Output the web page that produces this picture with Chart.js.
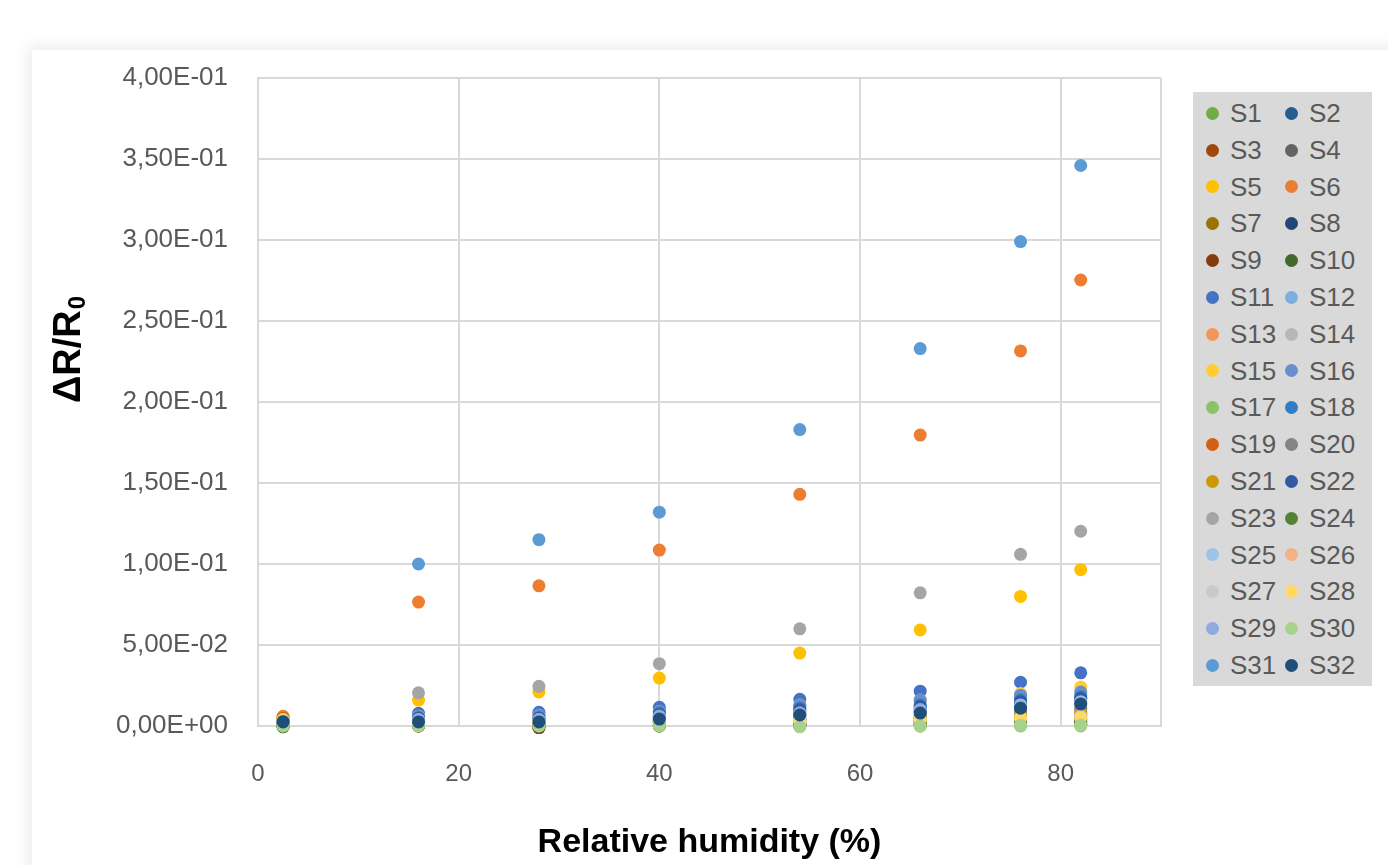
<!DOCTYPE html>
<html>
<head>
<meta charset="utf-8">
<script src="https://cdn.jsdelivr.net/npm/chart.js@4.4.1/dist/chart.umd.min.js"></script>
<style>
  html, body { margin: 0; padding: 0; background: #ffffff; }
  body { width: 1388px; height: 865px; position: relative; overflow: hidden; }
  #frame { position: absolute; left: 32px; top: 50px; width: 1420px; height: 900px; background: #fff;
           box-shadow: 0 0 14px 4px rgba(0,0,0,0.08); }
  #wrap { position: absolute; left: 0; top: 0; width: 1388px; height: 865px; }
  #legend { position: absolute; left: 1193px; top: 92px; width: 179px; height: 594px; background: #D9D9D9;
            box-sizing: border-box; padding-top: 3px; display: grid; grid-template-columns: 89px 90px;
            grid-auto-rows: 36.8px; font-family: 'Liberation Sans', Arial, sans-serif;
            font-size: 26px; color: #595959; }
  .item { position: relative; }
  .dot { position: absolute; left: 13px; width: 13px; height: 13px; border-radius: 50%; top: 50%; margin-top: -6.5px; }
  .lbl { position: absolute; left: 37px; line-height: 36.8px; top: 0; }
  .item.c2 .dot { left: 3px; }
  .item.c2 .lbl { left: 27px; }
</style>
</head>
<body>
<div id="frame"></div>
<div id="wrap"><canvas id="c" width="1388" height="865"></canvas></div>
<div id="legend"></div>
<script>
// ---- DATA ----
const humidity = [2.5, 16, 28, 40, 54, 66, 76, 82];
const xTickLabels = ['0', '20', '40', '60', '80', ''];
const yTickLabels = ['0,00E+00', '5,00E-02', '1,00E-01', '1,50E-01', '2,00E-01', '2,50E-01', '3,00E-01', '3,50E-01', '4,00E-01'];
const xTitle = 'Relative humidity (%)';
const yTitleMain = 'ΔR/R';
const yTitleSub = '0';

const s1  = [0.0000, 0.0000, 0.0000, 0.0000, 0.0000, 0.0000, 0.0010, 0.0010];
const s2  = [0.0020, 0.0040, 0.0040, 0.0060, 0.0090, 0.0110, 0.0140, 0.0170];
const s3  = [0.0000, 0.0000, -0.0010, 0.0010, 0.0010, 0.0020, 0.0020, 0.0030];
const s4  = [0.0010, 0.0020, 0.0020, 0.0030, 0.0040, 0.0050, 0.0060, 0.0070];
const s5  = [0.0055, 0.0160, 0.0210, 0.0296, 0.0450, 0.0593, 0.0800, 0.0965];
const s6  = [0.0060, 0.0765, 0.0865, 0.1086, 0.1430, 0.1796, 0.2315, 0.2753];
const s7  = [0.0010, 0.0010, 0.0010, 0.0020, 0.0030, 0.0030, 0.0040, 0.0050];
const s8  = [0.0020, 0.0030, 0.0030, 0.0050, 0.0070, 0.0090, 0.0120, 0.0150];
const s9  = [0.0000, 0.0000, -0.0010, 0.0000, 0.0010, 0.0010, 0.0020, 0.0020];
const s10 = [-0.0005, 0.0000, 0.0000, 0.0000, 0.0000, 0.0010, 0.0010, 0.0010];
const s11 = [0.0030, 0.0078, 0.0085, 0.0115, 0.0165, 0.0215, 0.0270, 0.0328];
const s12 = [0.0030, 0.0060, 0.0060, 0.0090, 0.0120, 0.0150, 0.0170, 0.0190];
const s13 = [0.0040, 0.0030, 0.0030, 0.0040, 0.0050, 0.0060, 0.0080, 0.0100];
const s14 = [0.0020, 0.0030, 0.0030, 0.0040, 0.0050, 0.0060, 0.0080, 0.0090];
const s15 = [0.0050, 0.0060, 0.0060, 0.0085, 0.0130, 0.0160, 0.0200, 0.0240];
const s16 = [0.0030, 0.0060, 0.0070, 0.0090, 0.0130, 0.0160, 0.0190, 0.0210];
const s17 = [0.0000, 0.0010, 0.0000, 0.0010, 0.0000, 0.0000, 0.0000, 0.0000];
const s18 = [0.0030, 0.0050, 0.0050, 0.0080, 0.0110, 0.0130, 0.0160, 0.0180];
const s19 = [0.0050, 0.0020, 0.0020, 0.0030, 0.0040, 0.0050, 0.0060, 0.0070];
const s20 = [0.0010, 0.0030, 0.0030, 0.0040, 0.0060, 0.0070, 0.0090, 0.0110];
const s21 = [0.0020, 0.0020, 0.0020, 0.0030, 0.0040, 0.0050, 0.0070, 0.0080];
const s22 = [0.0030, 0.0050, 0.0050, 0.0070, 0.0100, 0.0120, 0.0150, 0.0170];
const s23 = [0.0040, 0.0205, 0.0245, 0.0385, 0.0600, 0.0822, 0.1060, 0.1202];
const s24 = [0.0000, 0.0010, 0.0010, 0.0020, 0.0020, 0.0030, 0.0030, 0.0040];
const s25 = [0.0020, 0.0040, 0.0040, 0.0060, 0.0080, 0.0100, 0.0130, 0.0150];
const s26 = [0.0030, 0.0020, 0.0020, 0.0030, 0.0040, 0.0040, 0.0050, 0.0060];
const s27 = [0.0010, 0.0020, 0.0020, 0.0030, 0.0030, 0.0040, 0.0050, 0.0060];
const s28 = [0.0040, 0.0030, 0.0030, 0.0040, 0.0030, 0.0040, 0.0050, 0.0050];
const s29 = [0.0020, 0.0040, 0.0040, 0.0060, 0.0080, 0.0100, 0.0120, 0.0140];
const s30 = [0.0000, 0.0000, 0.0000, 0.0000, -0.0005, 0.0000, 0.0005, 0.0005];
const s31 = [0.0030, 0.1000, 0.1150, 0.1320, 0.1830, 0.2330, 0.2990, 0.3460];
const s32 = [0.0025, 0.0025, 0.0025, 0.0043, 0.0068, 0.0080, 0.0110, 0.0136];

const seriesNames = ['S1','S2','S3','S4','S5','S6','S7','S8','S9','S10','S11','S12','S13','S14','S15','S16',
                     'S17','S18','S19','S20','S21','S22','S23','S24','S25','S26','S27','S28','S29','S30','S31','S32'];
const seriesValues = [s1,s2,s3,s4,s5,s6,s7,s8,s9,s10,s11,s12,s13,s14,s15,s16,
                      s17,s18,s19,s20,s21,s22,s23,s24,s25,s26,s27,s28,s29,s30,s31,s32];
// ---- STYLE ----
const seriesColors = ['#70AD47','#255E91','#9E480E','#636363','#FFC000','#ED7D31','#997300','#264478',
                      '#843C0C','#43682B','#4472C4','#7CAFDD','#F1975A','#B7B7B7','#FFCD33','#698ED0',
                      '#8CC168','#327DC2','#D26012','#848484','#CC9A00','#335AA1','#A5A5A5','#548235',
                      '#9DC3E6','#F4B183','#C9C9C9','#FFD966','#8FAADC','#A9D18E','#5B9BD5','#1F4E79'];

const sans = "'Liberation Sans', Arial, sans-serif";

const datasets = seriesNames.map((name, i) => ({
  label: name,
  data: humidity.map((h, k) => ({ x: h, y: seriesValues[i][k] })),
  backgroundColor: seriesColors[i],
  borderColor: seriesColors[i],
  pointRadius: 6.5,
  pointBorderWidth: 0,
  pointHoverRadius: 6.5,
  showLine: false,
  clip: false,
  order: seriesNames.length - 1 - i
}));

const yTitlePlugin = {
  id: 'yTitle',
  afterDraw(chart) {
    const ctx = chart.ctx;
    ctx.save();
    ctx.translate(70, 350);
    ctx.rotate(-Math.PI / 2);
    ctx.fillStyle = '#000000';
    ctx.textBaseline = 'middle';
    ctx.textAlign = 'left';
    const mainFont = 'bold 38px ' + sans;
    const subFont = 'bold 24px ' + sans;
    ctx.font = mainFont;
    const w1 = ctx.measureText(yTitleMain).width;
    ctx.font = subFont;
    const w2 = ctx.measureText(yTitleSub).width;
    const start = -(w1 + w2) / 2;
    ctx.font = mainFont;
    ctx.fillText(yTitleMain, start, 0);
    ctx.font = subFont;
    ctx.fillText(yTitleSub, start + w1 + 1, 8);
    ctx.restore();
  }
};

new Chart(document.getElementById('c'), {
  type: 'scatter',
  data: { datasets },
  options: {
    responsive: false,
    animation: false,
    events: [],
    layout: { padding: { left: 40, top: 78, right: 227, bottom: 0 } },
    plugins: {
      legend: { display: false },
      tooltip: { enabled: false }
    },
    scales: {
      x: {
        type: 'linear',
        min: 0, max: 90,
        ticks: {
          stepSize: 20,
          autoSkip: false,
          maxRotation: 0,
          padding: 34,
          color: '#595959',
          font: { family: sans, size: 24 },
          callback: (v, i) => xTickLabels[i]
        },
        grid: { color: '#D9D9D9', lineWidth: 2, drawTicks: false },
        border: { color: '#D9D9D9', width: 2 },
        title: {
          display: true,
          text: xTitle,
          color: '#000000',
          font: { family: sans, size: 34, weight: 'bold', lineHeight: 1 },
          padding: { top: 0, bottom: 5 }
        },
        afterFit: (s) => { s.height = 139; }
      },
      y: {
        type: 'linear',
        min: 0, max: 0.4,
        ticks: {
          stepSize: 0.05,
          autoSkip: false,
          padding: 30,
          color: '#595959',
          font: { family: sans, size: 26 },
          callback: (v, i) => yTickLabels[i]
        },
        grid: { color: '#D9D9D9', lineWidth: 2, drawTicks: false },
        border: { color: '#D9D9D9', width: 2 },
        afterFit: (s) => { s.width = 218; }
      }
    }
  },
  plugins: [yTitlePlugin]
});

// HTML legend, row-wise two columns
const legendEl = document.getElementById('legend');
seriesNames.forEach((name, i) => {
  const it = document.createElement('div');
  it.className = 'item' + (i % 2 === 1 ? ' c2' : '');
  const d = document.createElement('span');
  d.className = 'dot';
  d.style.background = seriesColors[i];
  const l = document.createElement('span');
  l.className = 'lbl';
  l.textContent = name;
  it.appendChild(d); it.appendChild(l);
  legendEl.appendChild(it);
});
</script>
</body>
</html>
